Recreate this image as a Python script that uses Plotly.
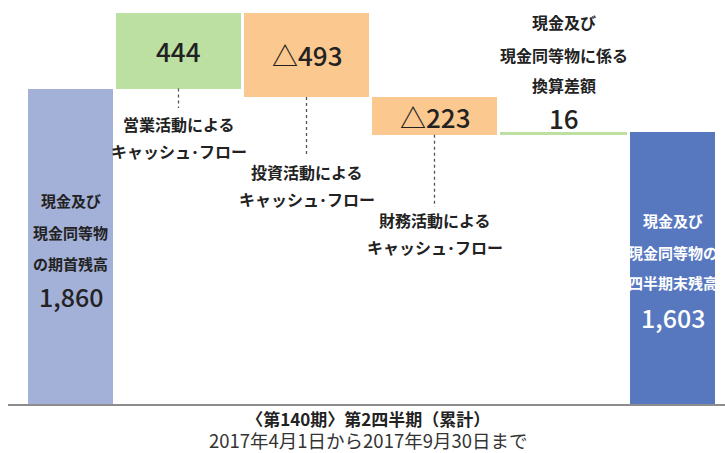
import plotly.graph_objects as go

# ---- data ----
start_label = ["現金及び", "現金同等物", "の期首残高"]
start_value = 1860
change_labels = [
    ["営業活動による", "キャッシュ･フロー"],
    ["投資活動による", "キャッシュ･フロー"],
    ["財務活動による", "キャッシュ･フロー"],
    ["現金及び", "現金同等物に係る", "換算差額"],
]
change_values = [444, -493, -223, 16]
end_label = ["現金及び", "現金同等物の", "四半期末残高"]
end_value = 1603
title_line1 = "〈第140期〉第2四半期（累計）"
title_line2 = "2017年4月1日から2017年9月30日まで"

# ---- style ----
W, H = 725, 453
PLOT_TOP, BASE_PX = 13, 405
widths = [85, 125, 125, 125, 127, 85]
x0, gap = 28, 3
colors = ["#A3B0D8", "#BCDFA2", "#FBC98F", "#FBC98F", "#BCDFA2", "#5778BF"]
FONT = "Noto Sans CJK JP"
TXT = "#222222"

# cumulative bases
bases, heights = [0], [start_value]
cum = start_value
for v in change_values:
    bases.append(cum if v >= 0 else cum + v)
    heights.append(abs(v))
    cum += v
bases.append(0)
heights.append(end_value)
top_val = max(b + h for b, h in zip(bases, heights))

scale = top_val / (BASE_PX - PLOT_TOP)  # data units per px
def py(p):
    return (BASE_PX - p) * scale

centers = []
x = x0
for w in widths:
    centers.append(x + w / 2)
    x += w + gap

fig = go.Figure()
fig.add_trace(go.Bar(
    x=centers, y=heights, base=bases, width=widths,
    marker=dict(color=colors, line=dict(width=0)),
    hoverinfo="skip", cliponaxis=False,
))

ann = []
def add(xc, ypx, text, size, color=TXT, weight="normal"):
    ann.append(dict(x=xc, y=py(ypx), xref="x", yref="y", text=text, showarrow=False,
                    font=dict(family=FONT, size=size, color=color, weight=weight),
                    xanchor="center", yanchor="middle"))

def fmt(v):
    return ("△" if v < 0 else "") + f"{abs(v):,}"

# start bar
for t, yp in zip(start_label, [200, 232, 263]):
    add(centers[0], yp, t, 15, weight="bold")
add(centers[0], 296, fmt(start_value), 25, weight=500)

# change bars values
val_px = [50, 54, 116, 117]
for i in range(3):
    add(centers[i + 1], val_px[i], fmt(change_values[i]), 26, weight=500)
add(centers[4], val_px[3], fmt(change_values[3]), 26, weight=500)

# change labels below
label_px = [[124, 151], [172, 199], [220, 247]]
line_end = [108, 157, 207]
shapes = []
for i in range(3):
    c = centers[i + 1]
    for t, yp in zip(change_labels[i], label_px[i]):
        add(c, yp, t, 16, weight="bold")
    shapes.append(dict(type="line", xref="x", yref="y", x0=c, x1=c,
                       y0=bases[i + 1], y1=py(line_end[i]),
                       line=dict(color="#555555", width=1.3, dash="dot")))
for t, yp in zip(change_labels[3], [22, 55, 85]):
    add(centers[4], yp, t, 16, weight="bold")

# end bar
for t, yp in zip(end_label, [220, 252, 282]):
    add(centers[5], yp, t, 15, color="white", weight="bold")
add(centers[5], 317, fmt(end_value), 25, color="white", weight=500)

# baseline
shapes.append(dict(type="line", xref="x", yref="y", x0=8, x1=W, y0=0, y1=0,
                   line=dict(color="#8C8C8C", width=2)))

# two-line caption below the baseline
add(368, 429,
    f"<b>{title_line1}</b><br><span style='font-size:18.5px;color:#333333'>{title_line2}</span>",
    17)

fig.update_layout(
    width=W, height=H, margin=dict(l=0, r=0, t=0, b=0),
    paper_bgcolor="white", plot_bgcolor="white", showlegend=False,
    xaxis=dict(range=[0, W], visible=False, fixedrange=True),
    yaxis=dict(range=[py(H), py(0)], visible=False, fixedrange=True),
    annotations=ann, shapes=shapes, bargap=0,
)
fig.write_html("out.html", config={"displayModeBar": False},
               post_script="document.body.style.margin='0';document.body.style.overflow='hidden';")
